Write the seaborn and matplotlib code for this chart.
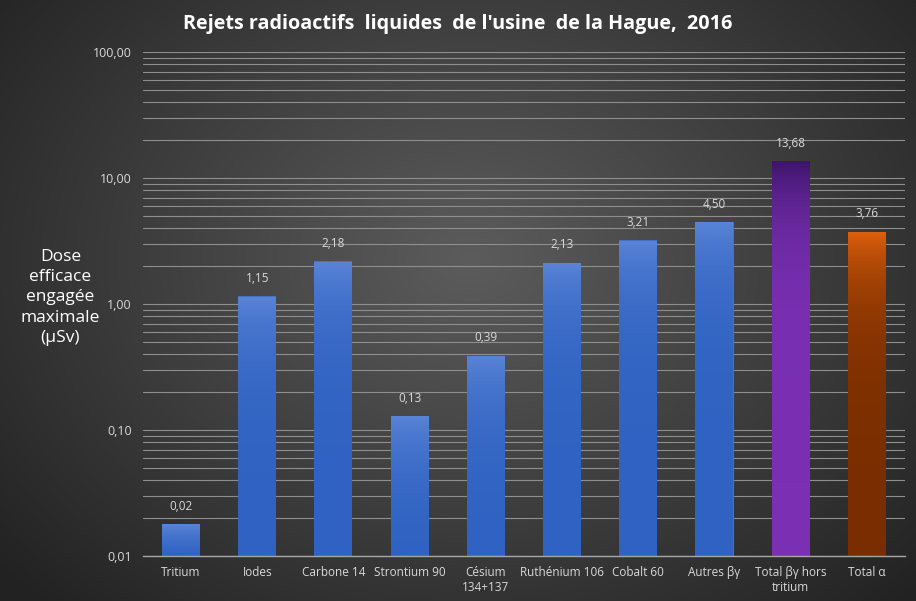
import numpy as np
import pandas as pd
import matplotlib
matplotlib.use("Agg")
import matplotlib.pyplot as plt
import seaborn as sns
from matplotlib.colors import LinearSegmentedColormap
from matplotlib.ticker import FixedLocator, NullFormatter

categories = ["Tritium", "Iodes", "Carbone 14", "Strontium 90", "Césium\n134+137",
              "Ruthénium 106", "Cobalt 60", "Autres βγ", "Total βγ hors\ntritium", "Total α"]
values = [0.018, 1.15, 2.18, 0.13, 0.39, 2.13, 3.21, 4.50, 13.68, 3.76]
value_labels = ["0,02", "1,15", "2,18", "0,13", "0,39", "2,13", "3,21", "4,50", "13,68", "3,76"]
major_ticks = [0.01, 0.1, 1, 10, 100]
major_labels = ["0,01", "0,10", "1,00", "10,00", "100,00"]
title = "Rejets radioactifs  liquides  de l'usine  de la Hague,  2016"
ylabel = "Dose\nefficace\nengagée\nmaximale\n(µSv)"

# gradient colours (top, bottom) per bar
grad_colors = [("#5a84d6", "#2f62c2")] * 8 + [("#3b1468", "#7b30b4"), ("#e0600c", "#7a2e00")]

sns.set_theme(style="dark")
plt.rcParams["font.family"] = ["Open Sans", "DejaVu Sans"]

fig = plt.figure(figsize=(9.16, 6.01), dpi=100)

# radial gradient background
bg = fig.add_axes([0, 0, 1, 1])
yy, xx = np.mgrid[0:601, 0:916]
d = np.sqrt(((xx - 470) / 620.0) ** 2 + ((yy - 260) / 480.0) ** 2)
d = np.clip(d, 0, 1)
c0 = np.array([0x5c, 0x5c, 0x5c]) / 255
c1 = np.array([0x22, 0x22, 0x22]) / 255
img = c0[None, None, :] * (1 - d[..., None]) + c1[None, None, :] * d[..., None]
bg.imshow(img, aspect="auto", extent=(0, 1, 0, 1))
bg.axis("off")

ax = fig.add_axes([0.156, 0.0749, 0.832, 0.8386])
ax.patch.set_alpha(0)

df = pd.DataFrame({"cat": categories, "val": values})
sns.barplot(data=df, x="cat", y="val", ax=ax, width=0.5, color="#4472c4",
            edgecolor="none", saturation=1)
ax.set_yscale("log")
ax.set_ylim(0.01, 100)
ax.set_xlim(-0.5, len(categories) - 0.5)

# gradient fill per bar
for patch, (ctop, cbot) in zip(ax.patches, grad_colors):
    x0 = patch.get_x()
    w = patch.get_width()
    h = patch.get_height()
    cmap = LinearSegmentedColormap.from_list("g", [ctop, cbot])
    grad = np.linspace(0, 1, 256).reshape(-1, 1)
    im = ax.imshow(grad, cmap=cmap, aspect="auto", extent=(x0, x0 + w, 0.01, h),
                   origin="upper", zorder=3, interpolation="bilinear")
    im.set_clip_path(patch)
    patch.set_zorder(2)

# gridlines
minor = [m * 10.0 ** e for e in range(-2, 2) for m in range(2, 10)]
ax.yaxis.set_major_locator(FixedLocator(major_ticks))
ax.yaxis.set_minor_locator(FixedLocator(minor))
ax.yaxis.set_minor_formatter(NullFormatter())
ax.set_yticklabels(major_labels)
ax.grid(which="both", axis="y", color="#8e8e8e", linewidth=0.8)
ax.grid(which="both", axis="x", visible=False)
ax.set_axisbelow(True)
for s in ["top", "right", "left"]:
    ax.spines[s].set_visible(False)
ax.spines["bottom"].set_visible(True)
ax.spines["bottom"].set_color("#a6a6a6")
ax.spines["bottom"].set_linewidth(1)
ax.spines["bottom"].set_zorder(4)

ax.tick_params(axis="y", which="both", length=0, labelsize=9, colors="#d9d9d9", pad=8)
ax.tick_params(axis="x", length=0, labelsize=8.5, colors="#d9d9d9", pad=7)
ax.set_xlabel("")
ax.set_ylabel("")

for i, (v, lab) in enumerate(zip(values, value_labels)):
    ax.annotate(lab, (i, v), xytext=(0, 8), textcoords="offset points",
                ha="center", va="bottom", fontsize=8.5, color="#d9d9d9")

fig.text(0.5, 0.960, title, ha="center", va="center", fontsize=14.2,
         fontweight="bold", color="white")
fig.text(0.066, 0.505, ylabel, ha="center", va="center", fontsize=12.5,
         color="white", linespacing=1.35)

fig.savefig("out.png", dpi=100)
